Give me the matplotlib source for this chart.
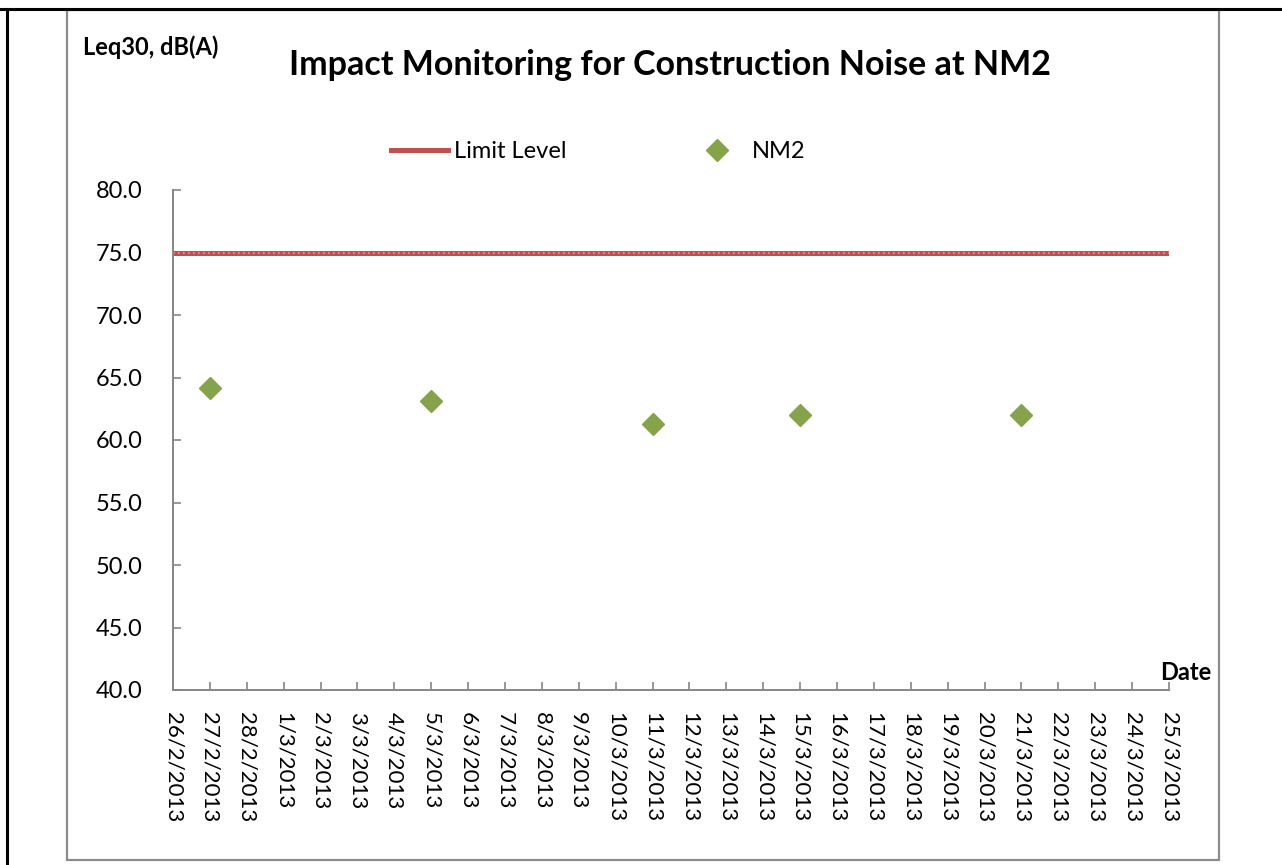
import matplotlib
matplotlib.use("Agg")
import matplotlib.pyplot as plt
import matplotlib.dates as mdates
from matplotlib.lines import Line2D
from matplotlib.patches import Rectangle
import datetime as dt

plt.rcParams['font.family'] = ['Lato', 'DejaVu Sans']

# ---- data ----
title = "Impact Monitoring for Construction Noise at NM2"
y_label = "Leq30, dB(A)"
x_label = "Date"
nm2_dates = ["2013-02-27", "2013-03-05", "2013-03-11", "2013-03-15", "2013-03-21"]
nm2_values = [64.2, 63.1, 61.3, 62.0, 62.0]
limit_dates = ["2013-02-26", "2013-03-25"]
limit_values = [75.0, 75.0]
x_start = "2013-02-26"
x_end = "2013-03-25"
y_ticks = [40.0, 45.0, 50.0, 55.0, 60.0, 65.0, 70.0, 75.0, 80.0]

def d(s):
    return dt.datetime.strptime(s, "%Y-%m-%d")

W, H = 1282, 865
fig = plt.figure(figsize=(W / 100, H / 100), dpi=100)

# outer borders
fig.add_artist(Line2D([0, 1], [1 - 9 / H, 1 - 9 / H], color='black', lw=2.2))
fig.add_artist(Line2D([7 / W, 7 / W], [0, 1 - 9 / H], color='black', lw=2.2))
# chart frame
fig.add_artist(Rectangle((67 / W, 1 - 860 / H), (1219 - 67) / W, (860 - 10) / H,
                         fill=False, edgecolor='#8c8c8c', lw=1.6))

ax = fig.add_axes([173 / W, 1 - 690 / H, (1169 - 173) / W, (690 - 190) / H])

lx = [d(s) for s in limit_dates]
ax.plot(lx, limit_values, color='#C0504D', lw=3.6, solid_capstyle='butt', label='Limit Level', zorder=2)
ax.plot(lx, limit_values, color='#E3A09E', lw=1.2, ls=(0, (1, 2)), zorder=2.1)

nx = [d(s) for s in nm2_dates]
ax.plot(nx, nm2_values, ls='none', marker='D', markersize=10.8, color='#84A34A',
        markeredgecolor='#84A34A', label='NM2', zorder=3)

ax.set_xlim(d(x_start), d(x_end))
ax.set_ylim(40, 80)
ax.set_yticks(y_ticks)
ax.set_yticklabels([f"{v:.1f}" for v in y_ticks])
ax.xaxis.set_major_locator(mdates.DayLocator())
ax.xaxis.set_major_formatter(plt.FuncFormatter(
    lambda v, p: (lambda t: f"{t.day}/{t.month}/{t.year}")(mdates.num2date(v))))

for s in ['top', 'right']:
    ax.spines[s].set_visible(False)
for s in ['left', 'bottom']:
    ax.spines[s].set_color('#868686')
    ax.spines[s].set_linewidth(1.4)

ax.tick_params(axis='both', direction='in', length=6, width=1.2, color='#868686',
               labelsize=16, labelcolor='black')
ax.tick_params(axis='x', pad=16, labelrotation=-90)
ax.tick_params(axis='y', labelsize=17, pad=22)
for lbl in ax.get_xticklabels():
    lbl.set_va('top')
    lbl.set_ha('center')

leg_handles = [
    Line2D([], [], color='#C0504D', lw=3.6),
    Line2D([], [], ls='none', marker='D', markersize=10.8, color='#84A34A'),
]
fig.legend(leg_handles, ['Limit Level', 'NM2'], ncol=2, frameon=False, fontsize=17,
           loc='center', bbox_to_anchor=(598 / W, 1 - 152 / H),
           handlelength=2.4, handletextpad=0.25, columnspacing=5.2)

fig.text(670 / W, 1 - 75 / H, title, ha='center', va='baseline', fontsize=24.5, fontweight='bold')
fig.text(83 / W, 1 - 55 / H, y_label, ha='left', va='baseline', fontsize=17, fontweight='bold')
fig.text(1160 / W, 1 - 680 / H, x_label, ha='left', va='baseline', fontsize=17, fontweight='bold')

fig.savefig("out.png", dpi=100)
